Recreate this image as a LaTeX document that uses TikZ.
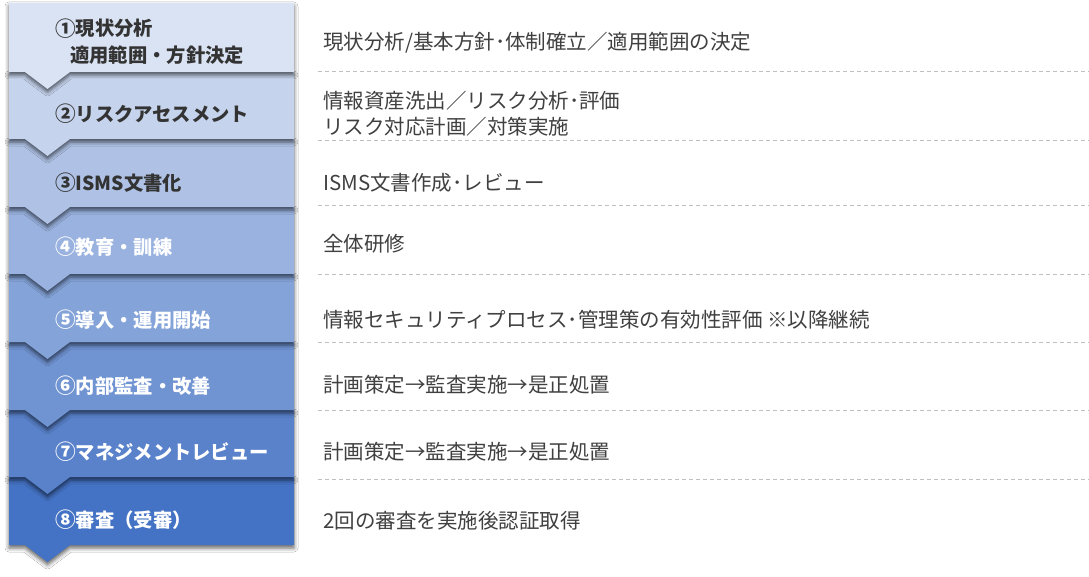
\documentclass[tikz,border=0pt]{standalone}
\usepackage{fontspec}
\setmainfont{Noto Sans CJK JP}
\usetikzlibrary{shadows.blur}
\definecolor{cA}{HTML}{DAE3F3}
\definecolor{cH}{HTML}{4472C4}
\colorlet{bA}{cA}
\colorlet{bB}{cH!14!cA}
\colorlet{bC}{cH!29!cA}
\colorlet{bD}{cH!43!cA}
\colorlet{bE}{cH!57!cA}
\colorlet{bF}{cH!71!cA}
\colorlet{bG}{cH!86!cA}
\colorlet{bH}{cH}
\definecolor{txtdark}{HTML}{333333}
\definecolor{txtgray}{HTML}{404040}
\definecolor{sepcol}{HTML}{BFBFBF}
\newcommand\stepshape[4]{%
  \fill[stepblock=#1] (9,#2) -- (294,#2) -- (294,#3) -- (70,#3) -- (47.5,{#3+17}) -- (25,#3) -- (9,#3) -- cycle;
  \coordinate (#4) at (9,#3);}
\newcommand\cnum[1]{\raisebox{-0.7pt}{\scalebox{1.07}{#1}}}
\tikzset{
  stepblock/.style={fill=#1, draw=none, blur shadow={shadow xshift=0pt, shadow yshift=-3pt, shadow blur radius=4pt, shadow opacity=62}},
  lefttext/.style={anchor=west, inner sep=0pt, align=left, font=\fontsize{19.3}{27}\selectfont\bfseries},
  righttext/.style={anchor=west, inner sep=0pt, align=left, text=txtgray, font=\fontsize{20.5}{26}\selectfont},
  sepline/.style={draw=sepcol, line width=0.8pt, dash pattern=on 4pt off 3pt}
}
\begin{document}
\begin{tikzpicture}[x=1pt,y=-1pt]
\useasboundingbox[fill=white] (0,0) rectangle (1089,577);
% blocks, drawn from bottom to top so each notch overlaps the next block
\stepshape{bH}{477}{545}{kH}
\stepshape{bG}{410}{477}{kG}
\stepshape{bF}{342}{410}{kF}
\stepshape{bE}{274}{342}{kE}
\stepshape{bD}{207}{274}{kD}
\stepshape{bC}{139}{207}{kC}
\stepshape{bB}{72}{139}{kB}
\stepshape{bA}{3}{72}{kA}
% left labels
\node[lefttext, text=txtdark] (lA) at (55,41.5) {\cnum{①}現状分析\\\hspace*{15pt}適用範囲・方針決定};
\node[lefttext, text=txtdark] (lB) at (55,114) {\cnum{②}リスクアセスメント};
\node[lefttext, text=txtdark] (lC) at (55,183) {\cnum{③}ISMS文書化};
\node[lefttext, text=white] (lD) at (55,247) {\cnum{④}教育・訓練};
\node[lefttext, text=white] (lE) at (55,320) {\cnum{⑤}導入・運用開始};
\node[lefttext, text=white] (lF) at (55,386) {\cnum{⑥}内部監査・改善};
\node[lefttext, text=white] (lG) at (55,452) {\cnum{⑦}マネジメントレビュー};
\node[lefttext, text=white] (lH) at (55,520) {\cnum{⑧}審査（受審）};
% right descriptions
\node[righttext] (rA) at (323,43) {現状分析/基本方針･体制確立／適用範囲の決定};
\node[righttext] (rB) at (323,114) {情報資産洗出／リスク分析･評価\\リスク対応計画／対策実施};
\node[righttext] (rC) at (323,183) {ISMS文書作成･レビュー};
\node[righttext] (rD) at (323,244) {全体研修};
\node[righttext] (rE) at (323,320) {情報セキュリティプロセス･管理策の有効性評価 ※以降継続};
\node[righttext] (rF) at (323,385) {計画策定→監査実施→是正処置};
\node[righttext] (rG) at (323,452) {計画策定→監査実施→是正処置};
\node[righttext] (rH) at (323,521) {2回の審査を実施後認証取得};
% separators
\foreach \y [count=\i] in {71,140,205,274,342,410,479}{
  \coordinate (sL\i) at (318,\y);
  \coordinate (sR\i) at (1089,\y);
  \draw[sepline] (sL\i) -- (sR\i);
}
\end{tikzpicture}
\end{document}
